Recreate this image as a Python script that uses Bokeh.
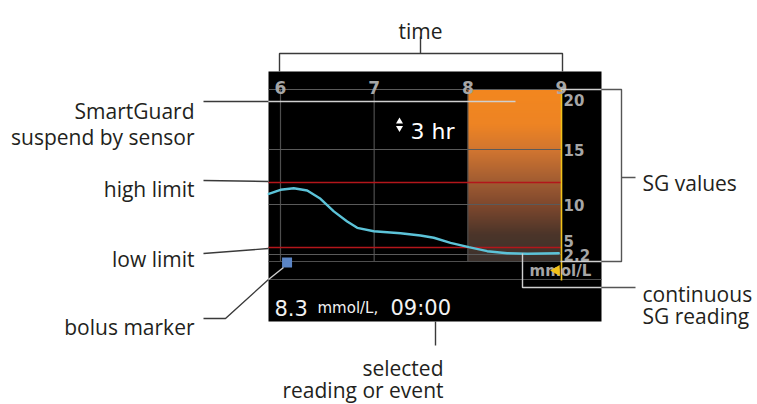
import numpy as np
from bokeh.plotting import figure
from bokeh.models import Range1d
from bokeh.core.properties import value
from bokeh.embed import file_html
from bokeh.resources import INLINE

# ---------------- data ----------------
time_ticks = [6, 7, 8, 9]
time_labels = ["6", "7", "8", "9"]
sg_ticks = [20, 15, 10, 5, 2.2]
sg_tick_labels = ["20", "15", "10", "5", "2.2"]
# pump display scale (non-linear): value -> display units
scale_values = [2.2, 5, 10, 15, 20]
scale_units = [0, 14, 50, 105, 165]

sg_times = [5.875, 6.0, 6.142, 6.285, 6.427, 6.569, 6.712, 6.819, 6.996, 7.281,
            7.494, 7.637, 7.815, 8.010, 8.207, 8.420, 8.634, 8.971]
sg_values = [10.97, 11.34, 11.48, 11.27, 10.52, 9.04, 7.65, 6.76, 6.29, 6.01,
             5.69, 5.38, 4.54, 3.66, 2.86, 2.46, 2.34, 2.46]
high_limit = 12.0
low_limit = 3.6
suspend_start = 8.0
suspend_end = 9.0
now_time = 9.0
bolus_times = [6.07]
view_hours = 3
sel_value = "8.3"
sel_unit = "mmol/L,"
sel_time = "09:00"

left_notes = ["SmartGuard", "suspend by sensor", "high limit", "low limit", "bolus marker"]
right_notes = ["SG values", "continuous", "SG reading"]
bottom_notes = ["selected", "reading or event"]
top_note = "time"

# ---------------- layout helpers ----------------
W, H = 757, 404
PXH = (561 - 280) / 3.0          # pixels per hour


def hx(px):                       # page x -> time
    return 6 + (px - 280) / PXH


def vy(py):                       # page y -> display units
    return 254 - py


def disp(v):
    return np.interp(v, scale_values, scale_units)


p = figure(width=W, height=H, output_backend="svg", toolbar_location=None,
           x_range=Range1d(hx(0), hx(W)), y_range=Range1d(vy(H), vy(0)),
           x_axis_type=None, y_axis_type=None, min_border=0)
p.outline_line_color = None
p.background_fill_color = "white"
p.border_fill_color = "white"
p.xgrid.visible = False
p.ygrid.visible = False

# screen background
p.quad(left=[hx(268)], right=[hx(601)], top=[vy(71)], bottom=[vy(321)],
       fill_color="black", line_color=None)

top_u = disp(20)
bot_u = vy(261)

# suspend gradient (single image, one row per display unit)
stops_u = [bot_u, 20, 50, 72, 105, 130, top_u]
stops_c = [(0x3c, 0x32, 0x2e), (0x4c, 0x35, 0x29), (0x80, 0x49, 0x2e), (0xa0, 0x5c, 0x32),
           (0xd2, 0x76, 0x30), (0xee, 0x84, 0x24), (0xf3, 0x87, 0x1f)]
nrow = int(round(top_u - bot_u))
rows_u = np.linspace(bot_u, top_u, nrow)
img = np.zeros((nrow, 2), dtype=np.uint32)
view = img.view(dtype=np.uint8).reshape((nrow, 2, 4))
for i, m in enumerate(rows_u):
    for k in range(3):
        view[i, :, k] = int(np.interp(m, stops_u, [c[k] for c in stops_c]))
    view[i, :, 3] = 255
p.image_rgba(image=[img], x=suspend_start, y=bot_u, dw=suspend_end - suspend_start,
             dh=top_u - bot_u)

# grid
grid_col = "#4e4e4e"
for t in time_ticks[:-1]:
    p.line([t, t], [top_u, bot_u], line_color=grid_col, line_width=1.2)
for v in [20, 15, 10, 2.2]:
    p.line([hx(268), now_time], [disp(v), disp(v)], line_color="#5a5a5a", line_width=1.2)
p.line([hx(268), now_time], [bot_u, bot_u], line_color=grid_col, line_width=1.2)
p.line([hx(268), hx(601)], [vy(279), vy(279)], line_color=grid_col, line_width=1.2)

# limits
for lim in [high_limit, low_limit]:
    p.line([hx(268), now_time], [disp(lim), disp(lim)], line_color="#b3161b", line_width=1.6)

# SG curve
p.line(sg_times, disp(np.array(sg_values)), line_color="#5cc3d8", line_width=2.4,
       line_join="round", line_cap="round")

# now line
p.line([now_time, now_time], [top_u, vy(280)], line_color="#f2c21a", line_width=1.6)

# bolus marker
p.scatter(bolus_times, [vy(262)] * len(bolus_times), marker="square", size=10,
          fill_color="#5b85c5", line_color=None)

# tick labels
p.text(x=time_ticks, y=[vy(87)] * 4, text=time_labels, text_font=value("DejaVu Sans"),
       text_font_style="bold", text_font_size="17px", text_color="#a6a6a6",
       text_align="center", text_baseline="alphabetic")
ys = [disp(v) for v in sg_ticks]
ys[0] = vy(93)
base = ["top", "middle", "middle", "middle", "middle"]
for yv, lab, bl in zip(ys, sg_tick_labels, base):
    p.text(x=[hx(563)], y=[yv], text=[lab], text_font=value("DejaVu Sans"),
           text_font_style="bold", text_font_size="15px", text_color="#a6a6a6",
           text_align="left", text_baseline=bl)
p.text(x=[hx(529)], y=[vy(270)], text=["mmol/L"], text_font=value("DejaVu Sans"),
       text_font_style="bold", text_font_size="15px", text_color="#a6a6a6",
       text_align="left", text_baseline="middle")
p.scatter([hx(556)], [vy(270)], marker="triangle", angle=np.pi / 2, size=11,
          fill_color="#f2c21a", line_color=None)

# view duration
p.text(x=[hx(410)], y=[vy(131)], text=["%d hr" % view_hours], text_font=value("DejaVu Sans"),
       text_font_size="22px", text_color="white", text_align="left", text_baseline="alphabetic")
p.scatter([hx(399), hx(399)], [vy(121), vy(127.5)], marker=["triangle", "inverted_triangle"],
          size=7, fill_color="white", line_color=None)

# selected reading
p.text(x=[hx(274)], y=[vy(307)], text=[sel_value], text_font=value("DejaVu Sans"),
       text_font_size="21px", text_color="#f2f2f2", text_baseline="alphabetic")
p.text(x=[hx(317)], y=[vy(307)], text=[sel_unit], text_font=value("DejaVu Sans"),
       text_font_size="15px", text_color="#f2f2f2", text_baseline="alphabetic")
p.text(x=[hx(390)], y=[vy(307)], text=[sel_time], text_font=value("DejaVu Sans"),
       text_font_size="21px", text_color="#f2f2f2", text_baseline="alphabetic")

# annotation lines
dark = "#3a3a3a"
light = "#cfcfcf"


def seg(pts, col, w=1.4):
    p.line([hx(a) for a, b in pts], [vy(b) for a, b in pts], line_color=col, line_width=w)


seg([(203, 101), (268, 101)], dark)
seg([(268, 101), (515, 101)], light, 1.6)
seg([(203, 180), (268, 181)], dark)
seg([(203, 253), (268, 248)], dark)
seg([(203, 318), (225, 318), (268, 279)], dark)
seg([(268, 279), (283, 267)], light)
seg([(279, 71), (279, 53), (562, 53), (562, 71)], dark)
seg([(420, 53), (420, 36)], dark)
seg([(435, 321), (435, 345)], dark)
seg([(560, 89), (601, 89)], light)
seg([(560, 261), (601, 261)], light)
seg([(601, 89), (621, 89), (621, 261), (601, 261)], "#555555")
seg([(621, 177), (635, 177)], "#555555")
seg([(522, 253), (522, 287), (601, 287)], light)
seg([(601, 287), (635, 287)], "#555555")

# annotation texts
ann = dict(text_font=value("Open Sans"), text_font_size="21px", text_color="#231f20",
           text_baseline="alphabetic")
p.text(x=[hx(194)] * 5, y=[vy(110), vy(136.5), vy(188), vy(258), vy(326)], text=left_notes,
       text_align="right", **ann)
p.text(x=[hx(642)] * 3, y=[vy(182), vy(293.5), vy(315)], text=right_notes,
       text_align="left", **ann)
p.text(x=[hx(443)] * 2, y=[vy(367), vy(389)], text=bottom_notes, text_align="right", **ann)
p.text(x=[hx(420)], y=[vy(30)], text=[top_note], text_align="center", **ann)

open("out.html", "w").write(file_html(p, INLINE))
